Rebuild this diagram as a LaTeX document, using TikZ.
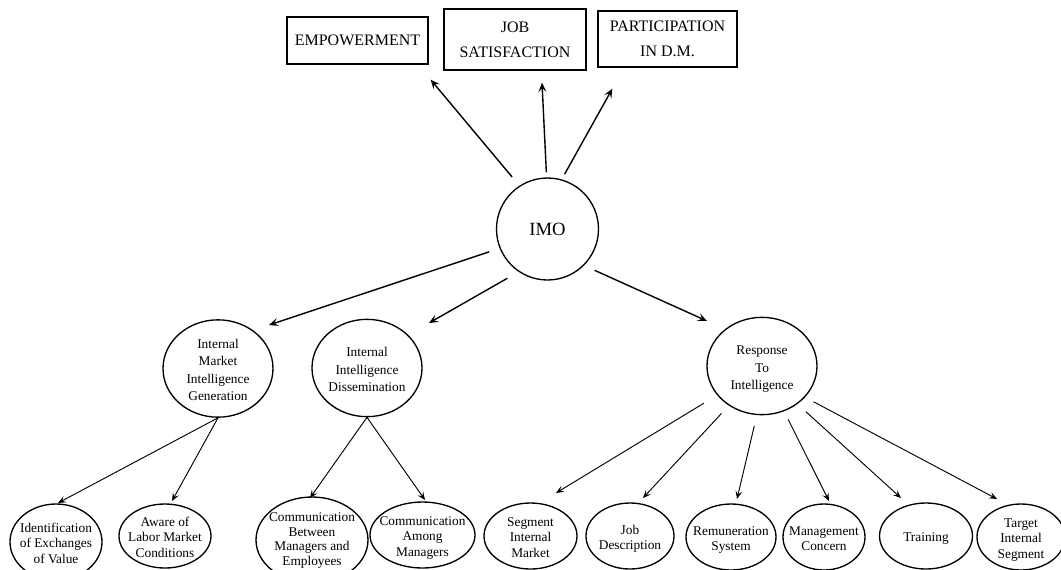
\documentclass[tikz,border=0pt]{standalone}
\usepackage{fontspec}
\setmainfont{Liberation Serif}
\usetikzlibrary{shapes.geometric,arrows.meta,calc}
\newcommand\ctxt[2][-0.45em]{\makebox[0pt]{\smash{\raisebox{#1}{\begin{tabular}{@{}c@{}}#2\end{tabular}}}}}
\begin{document}
\begin{tikzpicture}[x=0.75pt,y=-0.75pt,
  box/.style={draw, line width=1pt, rectangle, inner sep=0pt, font=\fontsize{12}{18.75}\selectfont},
  ell/.style={draw, ellipse, line width=1pt, inner sep=0pt},
  mid/.style={ell, minimum width=82.5pt, minimum height=73pt, font=\fontsize{10}{13}\selectfont},
  leaf/.style={ell, minimum height=49.5pt, font=\fontsize{10}{11.6}\selectfont},
  arr/.style={-{Stealth[length=7pt,width=6pt,inset=3pt]}, line width=1.05pt},
  arrs/.style={-{Stealth[length=6pt,width=5pt,inset=2.5pt]}, line width=0.7pt}]
\useasboundingbox (0,0) rectangle (1061,569);
% top boxes
\node[box, minimum width=105.75pt, minimum height=35.25pt] (emp) at (357.5,40.5) {\ctxt[-0.25em]{EMPOWERMENT}};
\node[box, minimum width=106.5pt, minimum height=45.75pt] (job) at (515,39.5) {\ctxt[-0.25em]{JOB\\SATISFACTION}};
\node[box, minimum width=104.25pt, minimum height=42pt] (part) at (667.5,39) {\ctxt[-0.25em]{PARTICIPATION\\IN D.M.}};
% center
\node[draw, circle, line width=1pt, inner sep=0pt, minimum size=76.5pt, font=\fontsize{14}{16}\selectfont] (imo) at (547.5,229) {\ctxt[-0.35em]{IMO}};
% middle
\node[mid] (gen) at (218,368.5) {\ctxt{Internal\\Market\\Intelligence\\Generation}};
\node[mid] (dis) at (367,368) {\ctxt{Internal\\Intelligence\\Dissemination}};
\node[mid] (resp) at (762,366) {\ctxt{Response\\To\\Intelligence}};
% leaves
\node[leaf, minimum width=69pt, minimum height=57pt] (ident) at (56,542) {\ctxt{Identification\\of Exchanges\\of Value}};
\node[leaf, minimum width=69pt, minimum height=48pt] (aware) at (165,536) {\ctxt{Aware of\\Labor Market\\Conditions}};
\node[leaf, minimum width=84pt, minimum height=64.5pt, font=\fontsize{10}{11}\selectfont] (cb) at (312,540) {\ctxt[-0.3em]{Communication\\Between\\Managers and\\Employees}};
\node[leaf, minimum width=78.75pt] (am) at (422.5,535) {\ctxt{Communication\\Among\\Managers}};
\node[leaf, minimum width=69.75pt] (seg) at (530.5,536) {\ctxt{Segment\\Internal\\Market}};
\node[leaf, minimum width=66pt] (jd) at (630,536) {\ctxt{Job\\Description}};
\node[leaf, minimum width=67.5pt] (rem) at (731,537) {\ctxt{Remuneration\\System}};
\node[leaf, minimum width=61.5pt] (man) at (824,537) {\ctxt{Management\\Concern}};
\node[leaf, minimum width=69.75pt] (train) at (926,536) {\ctxt{Training}};
\node[leaf, minimum width=66pt] (tgt) at (1021,537) {\ctxt{Target\\Internal\\Segment}};
% IMO arrows
\draw[arr, shorten <=8.5pt] (imo.123.6) -- ($(emp.south east)+(2,15)$);
\draw[arr, shorten <=3.75pt] (imo.91.5) -- ($(job.south)+(27,12)$);
\draw[arr, shorten <=4.5pt] (imo.74.3) -- ($(part.south west)+(15,21)$);
\draw[arr, shorten <=8.25pt] (imo.202.7) -- ($(gen)+(51,-43.5)$);
\draw[arr, shorten <=9.75pt] (imo.236.2) -- ($(dis)+(62,-45)$);
\draw[arr, shorten <=8.7pt] (imo.315.3) -- ($(resp)+(-55,-45)$);
% generation / dissemination
\draw[arrs] (gen.south) -- ($(ident)+(2,-39)$);
\draw[arrs] (gen.south) -- ($(aware)+(7,-35)$);
\draw[arrs] (dis.south) -- ($(cb)+(-2,-42)$);
\draw[arrs] (dis.south) -- ($(am)+(2.5,-35)$);
% response
\draw[arrs, shorten <=11.7pt] (resp.213.7) -- ($(seg)+(25.5,-43)$);
\draw[arrs, shorten <=8pt] (resp.230.9) -- ($(jd)+(13,-38)$);
\draw[arrs, shorten <=8.25pt] (resp.264.3) -- ($(rem)+(6,-38)$);
\draw[arrs, shorten <=6.75pt] (resp.296.1) -- ($(man)+(5,-36)$);
\draw[arrs, shorten <=8.6pt] (resp.313.1) -- ($(train)+(-25,-38)$);
\draw[arrs, shorten <=7.2pt] (resp.324.8) -- ($(tgt)+(-24,-38)$);
\end{tikzpicture}
\end{document}
